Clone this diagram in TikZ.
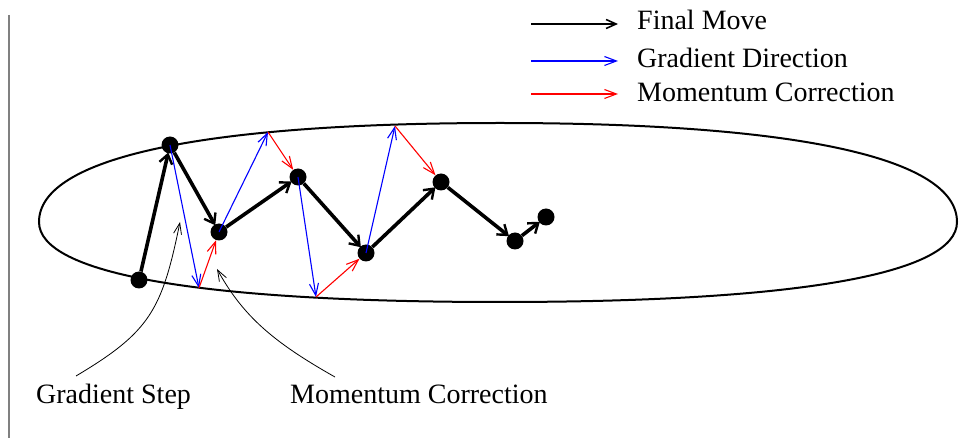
\documentclass[tikz,border=0pt]{standalone}
\usepackage{fontspec}
\setmainfont{Liberation Serif}
\usetikzlibrary{arrows.meta}
\begin{document}
\begin{tikzpicture}[x=1pt,y=-1pt,
  dot/.style={circle,fill=black,inner sep=0pt,minimum size=17pt},
  lbl/.style={anchor=base west,inner sep=0pt,font=\fontsize{28}{32}\selectfont},
  move/.style={line width=3.6pt,shorten >=-1pt,-{Straight Barb[length=9pt,width=13pt,line width=2.4pt]}},
  grad/.style={blue,line width=1.1pt,-{Straight Barb[length=12pt,width=9pt]}},
  corr/.style={red,line width=1.1pt,-{Straight Barb[length=12pt,width=9pt]}},
  fmove/.style={black,line width=1.6pt,-{Straight Barb[length=10pt,width=9pt]}},
  note/.style={line width=0.8pt,-{Straight Barb[length=11pt,width=8pt]}},
  oval/.style={line width=2pt}
]
\useasboundingbox (0,0) rectangle (959,438);
\coordinate (vt) at (9,15);
\coordinate (vb) at (9,438);
\draw[gray,line width=1.5pt] (vt) -- (vb);

% oval
\draw[oval] (39,222) .. controls (39,158) and (200,123) .. (500,123)
  .. controls (798,123) and (957,158) .. (957,222)
  .. controls (957,274) and (798,302) .. (500,302)
  .. controls (200,302) and (39,274) .. (39,222) -- cycle;

% dots
\node[dot] (B) at (139,280) {};
\node[dot] (A) at (170,145) {};
\node[dot] (C) at (219,232) {};
\node[dot] (D) at (298,177) {};
\node[dot] (E) at (366,253) {};
\node[dot] (F) at (441,182) {};
\node[dot] (G) at (515,241) {};
\node[dot] (H) at (546,217) {};

% gradient tips
\coordinate (g1) at (199,288);
\coordinate (g2) at (268,132);
\coordinate (g3) at (316,297);
\coordinate (g4) at (395,126);

\draw[grad] (A.center) -- (g1);
\draw[grad] (C.center) -- (g2);
\draw[grad] (D.center) -- (g3);
\draw[grad] (E.center) -- (g4);
\draw[corr] (g1) -- (C);
\draw[corr] (g2) -- (D);
\draw[corr] (g3) -- (E);
\draw[corr] (g4) -- (F);

% final moves
\draw[move] (B) -- (A);
\draw[move] (A) -- (C);
\draw[move] (C) -- (D);
\draw[move] (D) -- (E);
\draw[move] (E) -- (F);
\draw[move] (F) -- (G);
\draw[move] (G) -- (H);

% annotations
\node[lbl] (gs) at (36,403) {Gradient Step};
\node[lbl] (mc) at (290,403) {Momentum Correction};
\coordinate (gsS) at (76,376);
\coordinate (gsT) at (180,222);
\coordinate (mcS) at (335,377);
\coordinate (mcT) at (217,269);
\draw[note] (gsS) .. controls (150,332) and (162,310) .. (gsT);
\draw[note] (mcS) .. controls (273,342) and (243,316) .. (mcT);

% legend
\coordinate (l1a) at (531,24);  \coordinate (l1b) at (618,24);
\coordinate (l2a) at (531,61);  \coordinate (l2b) at (618,61);
\coordinate (l3a) at (531,94);  \coordinate (l3b) at (618,94);
\draw[fmove] (l1a) -- (l1b);
\draw[grad] (l2a) -- (l2b);
\draw[corr] (l3a) -- (l3b);
\node[lbl] (t1) at (637,30) {Final Move};
\node[lbl] (t2) at (637,68) {Gradient Direction};
\node[lbl] (t3) at (637,102) {Momentum Correction};
\end{tikzpicture}
\end{document}
